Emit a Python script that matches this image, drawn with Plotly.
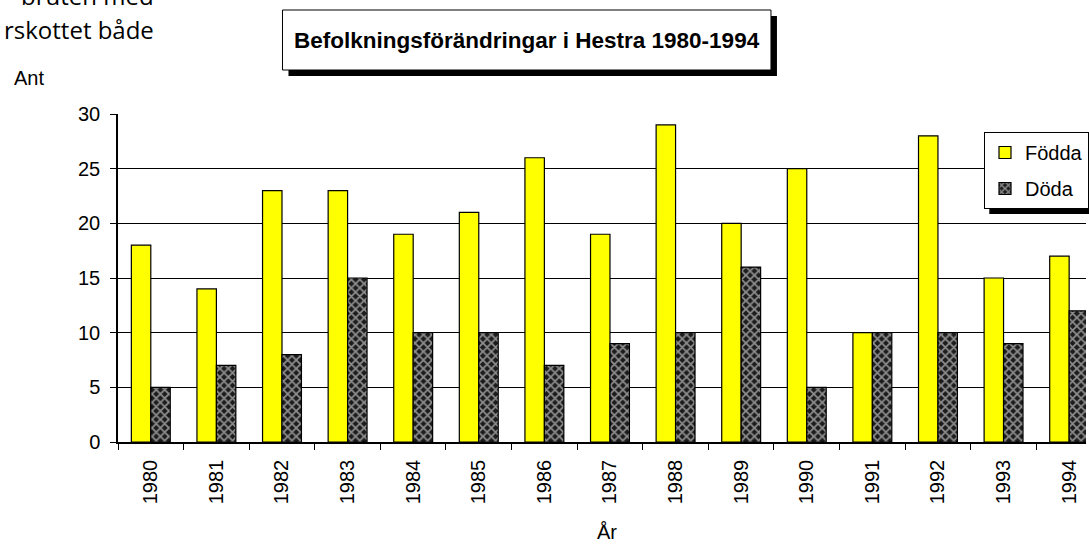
import plotly.graph_objects as go

years = ["1980", "1981", "1982", "1983", "1984", "1985", "1986", "1987",
         "1988", "1989", "1990", "1991", "1992", "1993", "1994"]
fodda = [18, 14, 23, 23, 19, 21, 26, 19, 29, 20, 25, 10, 28, 15, 17]
doda = [5, 7, 8, 15, 10, 10, 7, 9, 10, 16, 5, 10, 10, 9, 12]

W, H = 1089, 546
L, T, B, R = 118, 114, 104, 0
PW = W - L - R
PH = H - T - B
CAT_PX = 65.8

def px(x):
    return (x - L) / PW

def py(y):
    return (H - B - y) / PH

FONT = "Liberation Sans, Arial, sans-serif"

fig = go.Figure()
fig.add_trace(go.Bar(
    x=years, y=fodda, name="Födda", legendgroup="f",
    marker=dict(color="#ffff00", line=dict(color="#000000", width=1.2)),
))
fig.add_trace(go.Bar(
    x=years, y=doda, name="Döda", legendgroup="d",
    marker=dict(color="#222222", line=dict(color="#000000", width=1.2),
                pattern=dict(shape="x", fgcolor="#ffffff", bgcolor="#1c1c1c",
                             size=6, solidity=0.5)),
))

shapes = [
    # title shadow and box
    dict(type="rect", xref="paper", yref="paper", x0=px(289), x1=px(779), y0=py(16), y1=py(76),
         fillcolor="#000000", line=dict(width=0), layer="above"),
    dict(type="rect", xref="paper", yref="paper", x0=px(283), x1=px(773), y0=py(10), y1=py(70),
         fillcolor="#ffffff", line=dict(color="#000000", width=1), layer="above"),
    # legend shadow
    dict(type="rect", xref="paper", yref="paper", x0=px(992), x1=px(1095), y0=py(138), y1=py(214),
         fillcolor="#000000", line=dict(width=0), layer="above"),
]

annotations = [
    dict(text="<b>Befolkningsförändringar i Hestra 1980-1994</b>", xref="paper", yref="paper",
         x=px(528), y=py(40), showarrow=False, xanchor="center", yanchor="middle",
         font=dict(family=FONT, size=22.5, color="#000000")),
    dict(text="Ant", xref="paper", yref="paper", x=px(12), y=py(78), showarrow=False,
         xanchor="left", yanchor="middle", font=dict(family=FONT, size=20, color="#000000")),
    dict(text="År", xref="paper", yref="paper", x=px(609), y=py(532), showarrow=False,
         xanchor="center", yanchor="middle", font=dict(family=FONT, size=20, color="#000000")),
    dict(text="bruten med", xref="paper", yref="paper", x=px(156), y=py(-5), showarrow=False,
         xanchor="right", yanchor="middle", font=dict(family="Open Sans, sans-serif", size=24, color="#000000")),
    dict(text="rskottet både", xref="paper", yref="paper", x=px(156), y=py(29), showarrow=False,
         xanchor="right", yanchor="middle", font=dict(family="Open Sans, sans-serif", size=24, color="#000000")),
]

fig.update_layout(
    width=W, height=H,
    margin=dict(l=L, r=R, t=T, b=B, pad=0),
    paper_bgcolor="#ffffff", plot_bgcolor="#ffffff",
    barmode="group", bargap=0.407, bargroupgap=0,
    showlegend=True,
    legend=dict(x=px(987), y=py(132), xanchor="left", yanchor="top",
                bgcolor="#ffffff", bordercolor="#000000", borderwidth=1,
                font=dict(family=FONT, size=20, color="#000000"),
                itemwidth=30, tracegroupgap=7),
    shapes=shapes, annotations=annotations,
    font=dict(family=FONT, size=20, color="#000000"),
)
fig.update_yaxes(range=[0, 30], dtick=5, showgrid=True, gridcolor="#000000", gridwidth=1,
                 showline=True, linecolor="#000000", linewidth=1.5, ticks="outside",
                 ticklen=6, tickcolor="#000000", zeroline=False,
                 tickfont=dict(family=FONT, size=20, color="#000000"), ticklabelstandoff=6)
fig.update_xaxes(type="category", range=[-0.5, -0.5 + PW / CAT_PX], showgrid=False,
                 showline=True, linecolor="#000000", linewidth=1.5, ticks="outside",
                 tickson="boundaries", ticklen=6, tickcolor="#000000", tickangle=-90,
                 tickfont=dict(family=FONT, size=20, color="#000000"), ticklabelstandoff=8)

fig.write_html("out.html", config={"displayModeBar": False},
               post_script="document.body.style.margin='0';document.body.style.overflow='hidden';")
